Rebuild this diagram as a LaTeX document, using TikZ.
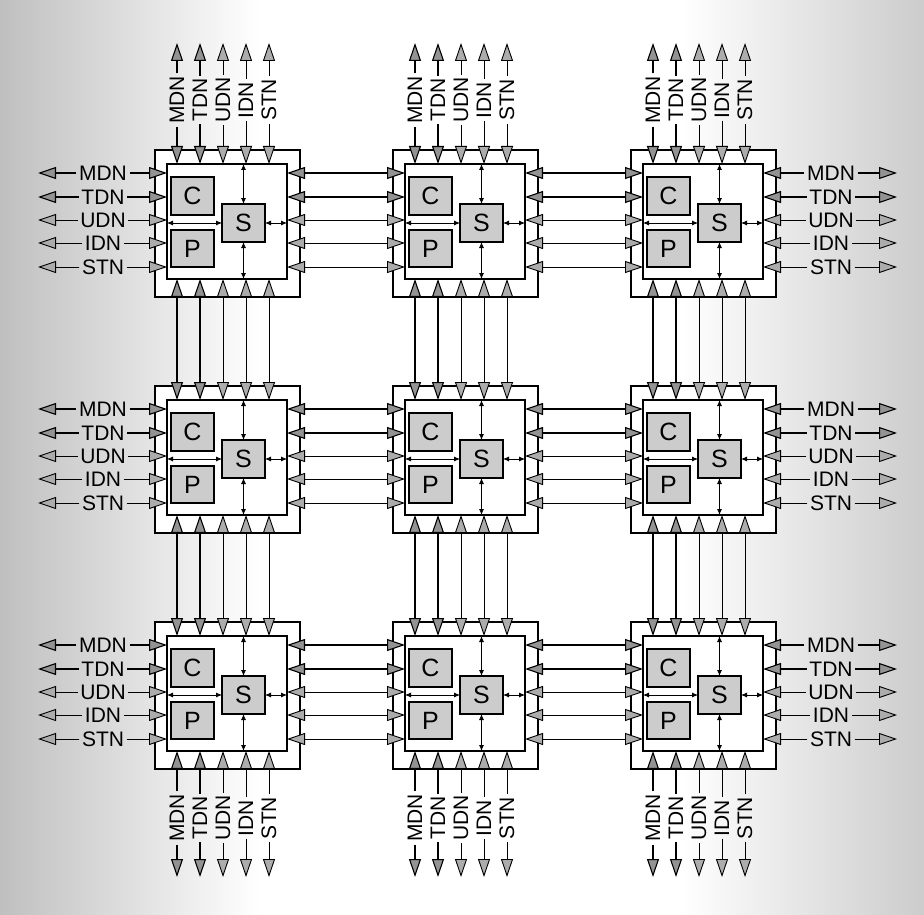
\documentclass[tikz,border=0pt]{standalone}
\usepackage{fontspec}
\setmainfont{Liberation Sans}
\usetikzlibrary{arrows.meta,calc}
\begin{document}
\begin{tikzpicture}[x=1pt,y=-1pt,
  box/.style={draw, line width=1.3pt, inner sep=0pt, outer sep=0pt},
  outerbox/.style={box, fill=white},
  innerbox/.style={box, fill=white},
  unit/.style={box, fill=gray!40, font=\fontsize{25}{25}\selectfont},
  small/.style={line width=0.8pt, arrows={Latex[length=6pt,width=5pt]-Latex[length=6pt,width=5pt]}},
  lanedark/.style={line width=1.1pt, arrows={Triangle[length=18pt,width=12pt,fill=gray!85]-Triangle[length=18pt,width=12pt,fill=gray!85]}},
  lanelight/.style={line width=0.9pt, arrows={Triangle[length=18pt,width=12pt,fill=gray!65]-Triangle[length=18pt,width=12pt,fill=gray!65]}},
  enddark/.style={line width=1.1pt, arrows={-Triangle[length=18pt,width=12pt,fill=gray!85]}},
  endlight/.style={line width=0.9pt, arrows={-Triangle[length=18pt,width=12pt,fill=gray!65]}},
  lbl/.style={font=\fontsize{21}{21}\selectfont, inner sep=2.5pt}]
\useasboundingbox (0,0) rectangle (924,915);
\shade[left color=gray!50, right color=white] (0,0) rectangle (260,915);
\shade[left color=white, right color=gray!40] (680,0) rectangle (924,915);
% tiles
\foreach \i in {0,1,2}{\foreach \j in {0,1,2}{
  \pgfmathsetmacro\X{155+238*\i}
  \pgfmathsetmacro\Y{150+236*\j}
  \node[outerbox, anchor=north west, minimum width=145pt, minimum height=147pt] (out-\i-\j) at (\X,\Y) {};
  \node[innerbox, anchor=north west, minimum width=120pt, minimum height=115pt] (inn-\i-\j) at (\X+12,\Y+14) {};
  \node[unit, anchor=north west, minimum width=43pt, minimum height=38pt] (C-\i-\j) at (\X+16,\Y+27) {C};
  \node[unit, anchor=north west, minimum width=43pt, minimum height=37pt] (P-\i-\j) at (\X+16,\Y+80) {P};
  \node[unit, anchor=north west, minimum width=43pt, minimum height=38pt] (S-\i-\j) at (\X+67,\Y+54) {S};
  \draw[small] (S-\i-\j.north) -- (S-\i-\j.north |- inn-\i-\j.north);
  \draw[small] (S-\i-\j.south) -- (S-\i-\j.south |- inn-\i-\j.south);
  \draw[small] (S-\i-\j.west) -- (S-\i-\j.west -| inn-\i-\j.west);
  \draw[small] (S-\i-\j.east) -- (S-\i-\j.east -| inn-\i-\j.east);
  \foreach \k/\yo/\xo in {1/23/22,2/47/45,3/70/68,4/93/91,5/117/114}{
    \coordinate (W-\i-\j-\k) at (\X+12,\Y+\yo);
    \coordinate (E-\i-\j-\k) at (\X+132,\Y+\yo);
    \coordinate (N-\i-\j-\k) at (\X+\xo,\Y+14);
    \coordinate (B-\i-\j-\k) at (\X+\xo,\Y+129);
  }
}}
% links between tiles
\foreach \k/\st in {1/dark,2/dark,3/light,4/light,5/light}{
  \foreach \a/\b in {0/1,1/2}{\foreach \c in {0,1,2}{
    \draw[lane\st] (E-\a-\c-\k) -- (W-\b-\c-\k);
    \draw[lane\st] (B-\c-\a-\k) -- (N-\c-\b-\k);
  }}
}
% edge labels
\foreach \k/\nm/\yo/\xo/\st in {1/MDN/23/22/dark,2/TDN/47/45/dark,3/UDN/70/68/light,4/IDN/93/91/light,5/STN/117/114/light}{
  \foreach \c in {0,1,2}{
    \pgfmathsetmacro\Y{150+236*\c}
    \pgfmathsetmacro\X{155+238*\c}
    % left
    \node[lbl] (LL-\c-\k) at (103,\Y+\yo) {\nm};
    \coordinate (LF-\c-\k) at (38,\Y+\yo);
    \draw[end\st] (LL-\c-\k) -- (LF-\c-\k);
    \draw[end\st] (LL-\c-\k) -- (W-0-\c-\k);
    % right
    \node[lbl] (RL-\c-\k) at (831,\Y+\yo) {\nm};
    \coordinate (RF-\c-\k) at (897,\Y+\yo);
    \draw[end\st] (RL-\c-\k) -- (RF-\c-\k);
    \draw[end\st] (RL-\c-\k) -- (E-2-\c-\k);
    % top
    \node[lbl, rotate=90] (TL-\c-\k) at (\X+\xo,100) {\nm};
    \coordinate (TF-\c-\k) at (\X+\xo,43);
    \draw[end\st] (TL-\c-\k) -- (TF-\c-\k);
    \draw[end\st] (TL-\c-\k) -- (N-\c-0-\k);
    % bottom
    \node[lbl, rotate=90] (BL-\c-\k) at (\X+\xo,818) {\nm};
    \coordinate (BF-\c-\k) at (\X+\xo,877);
    \draw[end\st] (BL-\c-\k) -- (BF-\c-\k);
    \draw[end\st] (BL-\c-\k) -- (B-\c-2-\k);
  }
}
\end{tikzpicture}
\end{document}
